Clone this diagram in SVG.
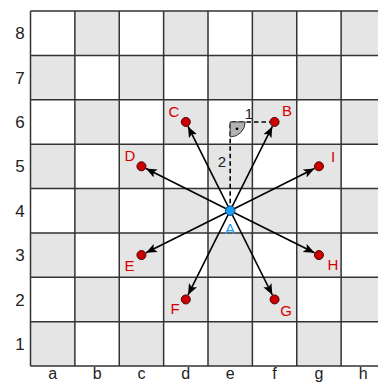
<svg xmlns="http://www.w3.org/2000/svg" width="378" height="383" viewBox="0 0 378 383">
<style>
.dk{fill:#e5e5e5}
.gl{stroke:#333;stroke-width:1.5;fill:none}
.lbl{font-family:"Liberation Sans",Arial,sans-serif;font-size:17px;fill:#222;text-anchor:middle}
.fl{font-family:"Liberation Sans",Arial,sans-serif;font-size:16px;fill:#222;text-anchor:middle}
.pl{font-family:"Liberation Sans",Arial,sans-serif;font-size:15px;fill:#d40000;text-anchor:middle}
.pt{fill:#cc0000;stroke:#4a0000;stroke-width:1}
.arr{stroke:#000;stroke-width:1.6;fill:none;marker-end:url(#ah)}
.dash{stroke:#000;stroke-width:1.6;fill:none;stroke-dasharray:4.5,3}
.num{font-family:"Liberation Sans",Arial,sans-serif;font-size:15px;fill:#222;text-anchor:middle}
</style>
<defs>
<marker id="ah" markerUnits="userSpaceOnUse" markerWidth="12" markerHeight="10" refX="11" refY="4.5" orient="auto">
<path d="M0,0 L11,4.5 L0,9 L2.5,4.5 Z" fill="#000"/>
</marker>
</defs>
<rect x="0" y="0" width="378" height="383" fill="#fff"/>
<g id="board">
<rect x="30.5" y="11" width="355" height="355" fill="#fff"/>
<rect class="dk" x="74.875" y="11" width="44.375" height="44.375"/>
<rect class="dk" x="163.625" y="11" width="44.375" height="44.375"/>
<rect class="dk" x="252.375" y="11" width="44.375" height="44.375"/>
<rect class="dk" x="341.125" y="11" width="44.375" height="44.375"/>
<rect class="dk" x="30.5" y="55.375" width="44.375" height="44.375"/>
<rect class="dk" x="119.25" y="55.375" width="44.375" height="44.375"/>
<rect class="dk" x="208" y="55.375" width="44.375" height="44.375"/>
<rect class="dk" x="296.75" y="55.375" width="44.375" height="44.375"/>
<rect class="dk" x="74.875" y="99.75" width="44.375" height="44.375"/>
<rect class="dk" x="163.625" y="99.75" width="44.375" height="44.375"/>
<rect class="dk" x="252.375" y="99.75" width="44.375" height="44.375"/>
<rect class="dk" x="341.125" y="99.75" width="44.375" height="44.375"/>
<rect class="dk" x="30.5" y="144.125" width="44.375" height="44.375"/>
<rect class="dk" x="119.25" y="144.125" width="44.375" height="44.375"/>
<rect class="dk" x="208" y="144.125" width="44.375" height="44.375"/>
<rect class="dk" x="296.75" y="144.125" width="44.375" height="44.375"/>
<rect class="dk" x="74.875" y="188.5" width="44.375" height="44.375"/>
<rect class="dk" x="163.625" y="188.5" width="44.375" height="44.375"/>
<rect class="dk" x="252.375" y="188.5" width="44.375" height="44.375"/>
<rect class="dk" x="341.125" y="188.5" width="44.375" height="44.375"/>
<rect class="dk" x="30.5" y="232.875" width="44.375" height="44.375"/>
<rect class="dk" x="119.25" y="232.875" width="44.375" height="44.375"/>
<rect class="dk" x="208" y="232.875" width="44.375" height="44.375"/>
<rect class="dk" x="296.75" y="232.875" width="44.375" height="44.375"/>
<rect class="dk" x="74.875" y="277.25" width="44.375" height="44.375"/>
<rect class="dk" x="163.625" y="277.25" width="44.375" height="44.375"/>
<rect class="dk" x="252.375" y="277.25" width="44.375" height="44.375"/>
<rect class="dk" x="341.125" y="277.25" width="44.375" height="44.375"/>
<rect class="dk" x="30.5" y="321.625" width="44.375" height="44.375"/>
<rect class="dk" x="119.25" y="321.625" width="44.375" height="44.375"/>
<rect class="dk" x="208" y="321.625" width="44.375" height="44.375"/>
<rect class="dk" x="296.75" y="321.625" width="44.375" height="44.375"/>
<path class="gl" d="M30.5,11V366M74.875,11V366M119.25,11V366M163.625,11V366M208,11V366M252.375,11V366M296.75,11V366M341.125,11V366M385.5,11V366
M30.5,11H386M30.5,55.375H386M30.5,99.75H386M30.5,144.125H386M30.5,188.5H386M30.5,232.875H386M30.5,277.25H386M30.5,321.625H386M30.5,366H386"/>
</g>
<g id="rank-labels">
<text class="lbl" x="20" y="39.3">8</text>
<text class="lbl" x="20" y="83.7">7</text>
<text class="lbl" x="20" y="128">6</text>
<text class="lbl" x="20" y="172.4">5</text>
<text class="lbl" x="20" y="216.8">4</text>
<text class="lbl" x="20" y="261.2">3</text>
<text class="lbl" x="20" y="305.5">2</text>
<text class="lbl" x="20" y="349.9">1</text>
</g>
<g id="file-labels">
<text class="fl" x="52.7" y="379">a</text>
<text class="fl" x="97.1" y="379">b</text>
<text class="fl" x="141.4" y="379">c</text>
<text class="fl" x="185.8" y="379">d</text>
<text class="fl" x="230.2" y="379">e</text>
<text class="fl" x="274.6" y="379">f</text>
<text class="fl" x="318.9" y="379">g</text>
<text class="fl" x="363.3" y="379">h</text>
</g>
<g id="connectors">
<path class="dash" d="M230.19,210.69V121.94H270"/>
<path class="arr" d="M230.19,210.69L272.32,126.41"/>
<path class="arr" d="M230.19,210.69L188.05,126.41"/>
<path class="arr" d="M230.19,210.69L145.91,168.55"/>
<path class="arr" d="M230.19,210.69L314.47,168.55"/>
<path class="arr" d="M230.19,210.69L145.91,252.82"/>
<path class="arr" d="M230.19,210.69L314.47,252.82"/>
<path class="arr" d="M230.19,210.69L188.05,294.97"/>
<path class="arr" d="M230.19,210.69L272.32,294.97"/>
</g>
<g id="right-angle">
<path d="M230.19,121.94H245.19A15,15 0 0 1 230.19,136.94Z" fill="#b3b3b3" stroke="#333" stroke-width="1"/>
<circle cx="237" cy="128.8" r="1.4" fill="#000"/>
<text class="num" x="249" y="119">1</text>
<text class="num" x="222" y="166.5">2</text>
</g>
<g id="node-A"><circle cx="230.19" cy="210.69" r="4.8" fill="#1e9bf0" stroke="#0a4a80" stroke-width="1"/><text class="pl" x="230" y="233.5" style="fill:#1e9bf0">A</text></g>
<g id="node-B"><circle class="pt" cx="274.56" cy="121.94" r="4.5"/><text class="pl" x="287" y="115.5">B</text></g>
<g id="node-C"><circle class="pt" cx="185.81" cy="121.94" r="4.5"/><text class="pl" x="174" y="116.5">C</text></g>
<g id="node-D"><circle class="pt" cx="141.44" cy="166.31" r="4.5"/><text class="pl" x="130" y="160.5">D</text></g>
<g id="node-I"><circle class="pt" cx="318.94" cy="166.31" r="4.5"/><text class="pl" x="333" y="161.5">I</text></g>
<g id="node-E"><circle class="pt" cx="141.44" cy="255.06" r="4.5"/><text class="pl" x="129.5" y="270.5">E</text></g>
<g id="node-H"><circle class="pt" cx="318.94" cy="255.06" r="4.5"/><text class="pl" x="333" y="269.5">H</text></g>
<g id="node-F"><circle class="pt" cx="185.81" cy="299.44" r="4.5"/><text class="pl" x="175" y="313.5">F</text></g>
<g id="node-G"><circle class="pt" cx="274.56" cy="299.44" r="4.5"/><text class="pl" x="286" y="315.5">G</text></g>
</svg>
